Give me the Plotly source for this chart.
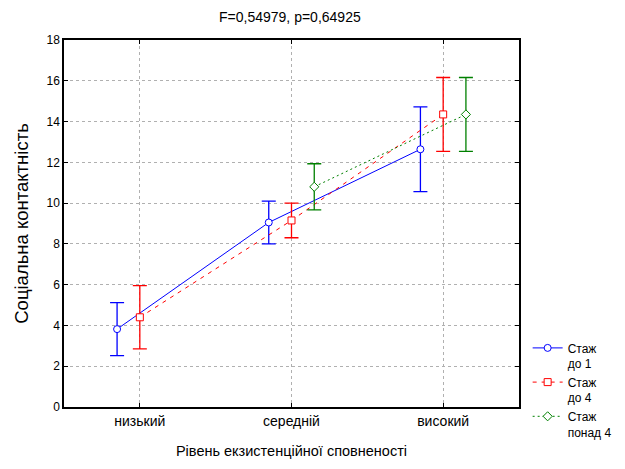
import plotly.graph_objects as go

categories = ["низький", "середній", "високий"]
series_names = ["Стаж<br>до 1", "Стаж<br>до 4", "Стаж<br>понад 4"]
means_1 = [3.82, 9.05, 12.64]
err_1 = [1.3, 1.05, 2.08]
means_4 = [4.4, 9.15, 14.35]
err_4 = [1.55, 0.85, 1.81]
means_5 = [None, 10.8, 14.35]
err_5 = [None, 1.13, 1.81]
y_ticks = [0, 2, 4, 6, 8, 10, 12, 14, 16, 18]

colors = ["#0000ff", "#ff0000", "#008000"]
dashes = ["solid", "4px,5px", "2px,3px"]
symbols = ["circle", "square", "diamond"]
offsets = [-0.15, 0.0, 0.15]
all_means = [means_1, means_4, means_5]
all_errs = [err_1, err_4, err_5]

fig = go.Figure()
for i in range(3):
    xs = [j + offsets[i] for j in range(len(categories))]
    fig.add_trace(go.Scatter(
        x=xs, y=all_means[i], name=series_names[i], mode="lines+markers",
        line=dict(color=colors[i], width=1, dash=dashes[i]),
        marker=dict(symbol=symbols[i], size=7, color="white",
                    line=dict(color=colors[i], width=1)),
        error_y=dict(type="data", array=all_errs[i], color=colors[i],
                     thickness=1.3, width=7),
        connectgaps=False,
    ))

fig.update_layout(
    width=625, height=469,
    paper_bgcolor="white", plot_bgcolor="white",
    margin=dict(l=56, r=114, t=32, b=70, autoexpand=False),
    font=dict(family="Liberation Sans, Arial, sans-serif", size=12, color="black"),
    title=dict(text="F=0,54979, p=0,64925", x=0.451, xanchor="center",
               y=0.981, yanchor="middle", font=dict(size=14)),
    showlegend=True,
    legend=dict(x=1.019, xanchor="left", y=0.2, yanchor="top",
                font=dict(size=12), tracegroupgap=0, itemwidth=30,
                valign="top", bgcolor="rgba(0,0,0,0)"),
)
fig.update_xaxes(
    range=[-0.5, 2.5], tickmode="array", tickvals=[0, 1, 2], ticktext=categories,
    showline=True, linecolor="black", linewidth=1.5, mirror="ticks",
    ticks="inside", ticklen=4, tickcolor="black",
    showgrid=True, gridcolor="#b0b0b0", griddash="dot", gridwidth=1,
    zeroline=False, tickfont=dict(size=14), automargin=False,
    title=dict(text="Рівень екзистенційної сповненості", font=dict(size=14.5), standoff=18),
)
fig.update_yaxes(
    range=[0, 18], tickmode="array", tickvals=y_ticks,
    showline=True, linecolor="black", linewidth=1.5, mirror="ticks",
    ticks="inside", ticklen=4, tickcolor="black",
    showgrid=True, gridcolor="#b0b0b0", griddash="dot", gridwidth=1,
    zeroline=False, tickfont=dict(size=12), automargin=False,
    title=dict(text="Соціальна контактність", font=dict(size=18.5), standoff=13),
)

fig.write_html("out.html")
